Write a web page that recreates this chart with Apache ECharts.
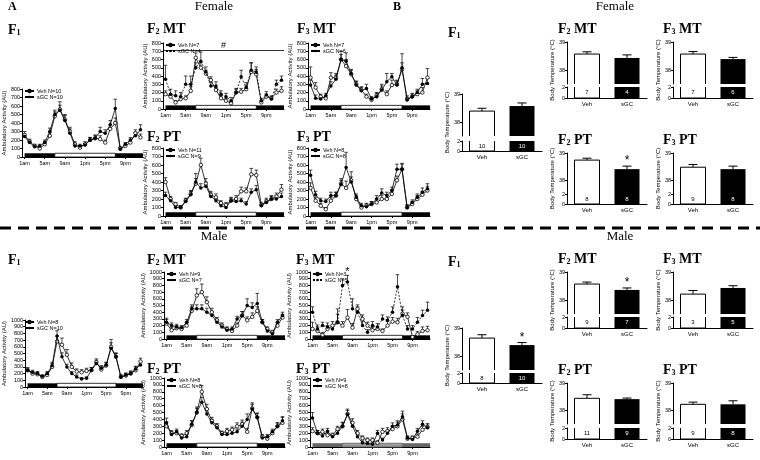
<!DOCTYPE html>
<html><head><meta charset="utf-8">
<script src="https://cdn.jsdelivr.net/npm/echarts@6/dist/echarts.min.js"></script>
<style>html,body{margin:0;padding:0;background:#fff}#c{width:760px;height:460px}</style>
</head><body><div id="c"></div>
<script>
// ---------- shared axes ----------
const hours = [1,2,3,4,5,6,7,8,9,10,11,12,13,14,15,16,17,18,19,20,21,22,23,24];
const xTickHours = [1,5,9,13,17,21];
const xTickLabels = ['1am','5am','9am','1pm','5pm','9pm'];
const lightsOn = 7, lightsOff = 19;

// ---------- Female ambulatory activity (mean, SEM) ----------
const fF1_veh      = [260,180,130,100,150,250,480,560,440,300,150,110,150,200,220,210,170,330,400,100,130,170,280,230];
const fF1_vehErr   = [40,30,20,20,30,40,50,90,60,50,30,20,30,30,40,40,30,50,60,20,20,30,40,40];
const fF1_sgc      = [240,170,120,130,170,300,500,550,430,280,130,130,140,200,220,300,280,380,570,90,150,200,250,320];
const fF1_sgcErr   = [30,20,20,20,30,40,50,60,60,50,30,20,20,30,30,50,40,50,110,20,20,30,40,60];
const fF2MT_veh    = [180,150,80,120,130,220,620,500,430,350,230,130,100,70,200,210,240,450,420,80,150,130,200,220];
const fF2MT_vehErr = [40,30,20,30,30,50,60,60,40,40,30,30,30,20,40,40,40,110,60,20,30,30,40,50];
const fF2MT_sgc    = [360,180,160,150,300,300,500,580,450,280,280,180,150,100,200,390,260,470,450,100,170,120,300,350];
const fF2MT_sgcErr = [170,60,60,50,100,100,60,110,60,40,50,40,40,40,50,80,60,90,60,30,40,30,50,50];
const fF3MT_veh    = [380,260,150,130,380,380,600,520,420,300,230,150,110,160,240,180,290,300,480,120,150,180,200,380];
const fF3MT_vehErr = [130,60,30,30,60,50,100,80,50,40,40,30,30,40,60,40,60,50,190,40,40,40,60,110];
const fF3MT_sgc    = [290,130,120,160,280,360,600,580,430,290,220,250,120,150,230,330,390,290,500,110,150,200,300,310];
const fF3MT_sgcErr = [60,40,30,30,50,50,60,100,50,40,40,50,30,40,50,100,40,50,60,30,30,40,70,60];
const fF2PT_veh    = [400,200,140,100,180,260,380,600,380,250,220,150,130,180,200,290,290,490,480,130,170,200,230,310];
const fF2PT_vehErr = [50,30,20,20,30,40,60,80,60,40,40,30,30,40,40,50,40,70,60,30,40,40,40,60];
const fF2PT_sgc    = [240,180,100,100,170,250,400,330,350,230,180,120,100,180,170,180,140,280,310,120,160,200,200,230];
const fF2PT_sgcErr = [40,30,20,20,30,40,100,50,50,40,30,20,20,30,30,30,30,40,50,20,30,30,40,40];
const fF3PT_veh    = [330,180,120,80,180,240,380,330,420,200,100,120,140,160,200,200,260,420,550,100,140,200,250,300];
const fF3PT_vehErr = [60,40,30,20,40,40,60,80,100,40,30,30,30,40,40,40,50,50,60,30,30,40,40,50];
const fF3PT_sgc    = [480,250,180,170,240,240,370,570,400,220,120,110,140,200,270,240,300,550,550,100,160,220,280,320];
const fF3PT_sgcErr = [60,40,30,30,40,40,50,180,60,40,30,30,30,40,50,40,40,60,70,30,30,40,50,60];

// ---------- Male ambulatory activity (mean, SEM) ----------
const mF1_veh      = [250,200,190,150,180,300,680,630,480,300,230,220,240,250,370,260,320,600,450,150,170,200,250,380];
const mF1_vehErr   = [40,30,30,20,30,50,80,100,80,60,40,40,40,40,50,40,40,110,60,30,30,40,50,50];
const mF1_sgc      = [250,220,200,160,200,320,760,450,300,200,150,120,130,250,350,280,330,580,450,150,180,200,270,330];
const mF1_sgcErr   = [30,30,30,20,30,50,80,60,40,30,30,20,20,40,50,40,40,80,50,30,30,30,40,50];
const mF1_arrowHours = [9, 10];
const mF2MT_veh    = [230,130,160,150,200,420,650,700,550,400,280,200,150,120,200,350,280,330,420,250,150,100,200,320];
const mF2MT_vehErr = [60,40,40,30,40,60,100,120,80,60,40,40,30,30,40,60,50,60,60,40,30,30,40,50];
const mF2MT_sgc    = [250,200,180,170,250,450,450,450,400,350,250,180,130,150,300,350,500,470,530,250,120,80,250,350];
const mF2MT_sgcErr = [60,40,40,30,40,60,60,60,60,50,40,30,30,30,40,60,100,70,150,40,30,20,40,50];
const mF3MT_veh    = [150,120,60,150,200,250,200,320,170,450,300,200,130,150,120,200,260,250,380,330,30,70,120,130];
const mF3MT_vehErr = [100,60,40,50,60,200,60,120,60,60,60,50,40,40,30,60,60,60,100,60,20,40,60,60];
const mF3MT_sgc    = [400,150,200,180,150,250,800,850,450,400,200,100,200,180,300,280,400,780,350,150,150,250,350,430];
const mF3MT_sgcErr = [80,60,50,60,60,120,100,100,150,80,60,40,60,50,60,50,80,180,80,50,50,70,80,120];
const mF3MT_starHours = [8];
const mF2PT_veh    = [300,200,200,160,200,320,500,800,550,380,300,200,230,250,300,330,220,560,430,150,120,200,300,350];
const mF2PT_vehErr = [60,40,40,30,40,60,80,90,70,50,40,30,40,40,50,60,50,80,60,30,30,40,50,80];
const mF2PT_sgc    = [350,180,220,130,150,330,500,650,480,350,280,180,180,200,220,300,400,550,430,130,150,220,300,380];
const mF2PT_sgcErr = [70,40,40,30,30,50,60,70,60,50,40,30,30,40,40,60,80,70,60,30,30,40,50,60];
const mF3PT_veh    = [230,200,220,170,170,260,300,480,350,200,130,100,100,60,220,230,260,300,400,120,130,150,250,290];
const mF3PT_vehErr = [50,40,40,30,30,40,60,70,60,40,30,30,30,30,50,50,50,60,80,30,30,40,50,50];
const mF3PT_sgc    = [420,200,160,230,150,200,300,470,300,150,60,50,40,200,100,200,300,320,440,130,110,230,330,280];
const mF3PT_sgcErr = [80,40,30,40,30,40,50,60,50,40,30,30,30,40,30,40,50,60,80,30,30,40,50,40];

// ---------- Body temperature (°C) ----------
const barCats = ['Veh','sGC'];
const fF1_temp   = [38.39, 38.57], fF1_err   = [0.10, 0.11], fF1_n   = [10, 10], fF1_star   = [0, 0];
const fF2MT_temp = [38.57, 38.43], fF2MT_err = [0.08, 0.11], fF2MT_n = [7, 4],   fF2MT_star = [0, 0];
const fF3MT_temp = [38.57, 38.39], fF3MT_err = [0.09, 0.06], fF3MT_n = [7, 6],   fF3MT_star = [0, 0];
const fF2PT_temp = [38.74, 38.41], fF2PT_err = [0.07, 0.11], fF2PT_n = [8, 8],   fF2PT_star = [0, 1];
const fF3PT_temp = [38.48, 38.41], fF3PT_err = [0.10, 0.11], fF3PT_n = [9, 8],   fF3PT_star = [0, 0];
const mF1_temp   = [38.64, 38.39], mF1_err   = [0.12, 0.09], mF1_n   = [8, 10],  mF1_star   = [0, 1];
const mF2MT_temp = [38.57, 38.36], mF2MT_err = [0.07, 0.07], mF2MT_n = [9, 7],   mF2MT_star = [0, 1];
const mF3MT_temp = [38.21, 38.43], mF3MT_err = [0.13, 0.08], mF3MT_n = [3, 5],   mF3MT_star = [0, 0];
const mF2PT_temp = [38.44, 38.41], mF2PT_err = [0.13, 0.04], mF2PT_n = [11, 9],  mF2PT_star = [0, 0];
const mF3PT_temp = [38.22, 38.22], mF3PT_err = [0.08, 0.13], mF3PT_n = [9, 8],   mF3PT_star = [0, 0];

// ---------- build ----------
const SERIF = '"Liberation Serif","DejaVu Serif",serif';
const SANS = '"Liberation Sans",Arial,sans-serif';
const BARW = 25;
const grids = [], xAxes = [], yAxes = [], series = [], titles = [], legends = [], graphics = [];

function addTitle(main, sub, rest, x, yc) {
  titles.push({
    text: '{a|' + main + '}{s|' + sub + '}' + (rest ? '{a| ' + rest + '}' : ''),
    left: x, top: yc - 10, padding: 0, itemGap: 0,
    textStyle: { rich: {
      a: { fontFamily: SERIF, fontSize: 14, color: '#000', lineHeight: 18, verticalAlign: 'bottom' },
      s: { fontFamily: SERIF, fontSize: 8, color: '#000', lineHeight: 11, verticalAlign: 'bottom' }
    } }
  });
}

function errSeries(gi, vals, errs, stars, z) {
  return {
    type: 'custom', xAxisIndex: gi, yAxisIndex: gi, silent: true, z: z,
    data: hours.map((h, i) => [h, vals[i], errs[i], stars && stars.indexOf(h) >= 0 ? 1 : 0]),
    renderItem: (params, api) => {
      const a = api.coord([api.value(0), api.value(1)]);
      const b = api.coord([api.value(0), api.value(1) + api.value(2)]);
      const ch = [
        { type: 'line', shape: { x1: a[0], y1: a[1], x2: b[0], y2: b[1] }, style: { stroke: '#000', lineWidth: 0.7 } },
        { type: 'line', shape: { x1: b[0] - 1.8, y1: b[1], x2: b[0] + 1.8, y2: b[1] }, style: { stroke: '#000', lineWidth: 0.7 } }
      ];
      if (api.value(3)) ch.push({ type: 'text', style: { text: '*', x: b[0], y: b[1] + 2, textAlign: 'center', textVerticalAlign: 'bottom', font: '11px ' + SANS, fill: '#000' } });
      return { type: 'group', children: ch };
    }
  };
}

function linePanel(p) {
  const gi = grids.length;
  grids.push({ left: p.left, top: p.top, width: p.width, height: p.height });
  xAxes.push({
    type: 'value', gridIndex: gi, min: 0.5, max: 24.5,
    axisLine: { lineStyle: { color: '#000', width: 1 } },
    axisTick: { customValues: xTickHours, length: 2, lineStyle: { color: '#000' } },
    axisLabel: { customValues: xTickHours, fontSize: 5.5, margin: 3, color: '#000', fontFamily: SANS,
      formatter: v => xTickLabels[xTickHours.indexOf(v)] || '' },
    splitLine: { show: false }
  });
  yAxes.push({
    type: 'value', gridIndex: gi, min: 0, max: p.ymax, interval: 100,
    axisLine: { show: true, lineStyle: { color: '#000', width: 1 } },
    axisTick: { show: true, length: 2, lineStyle: { color: '#000' } },
    axisLabel: { fontSize: 5.5, margin: 2, color: '#000', fontFamily: SANS, formatter: v => String(v) },
    splitLine: { show: false },
    name: 'Ambulatory Activity (AU)', nameLocation: 'middle', nameGap: p.ymax > 800 ? 15 : 13,
    nameTextStyle: { fontSize: 6, fontFamily: SANS, color: '#000' }
  });
  const barTop = p.ymax * 0.055;
  const dark = p.barColor || '#000';
  const vehName = 'Veh N=' + p.nVeh, sgcName = 'sGC N=' + p.nSgc;
  series.push(errSeries(gi, p.veh, p.vehErr, null, 2));
  series.push(errSeries(gi, p.sgc, p.sgcErr, p.stars, 2));
  series.push({
    type: 'line', name: vehName, xAxisIndex: gi, yAxisIndex: gi, z: 3,
    data: hours.map((h, i) => [h, p.veh[i]]),
    symbol: 'circle', symbolSize: 3.5,
    itemStyle: { color: '#fff', borderColor: '#000', borderWidth: 0.8 },
    lineStyle: { color: '#000', width: 0.8 },
    emphasis: { disabled: true },
    markArea: { silent: true, data: [
      [{ xAxis: 1, yAxis: 0, itemStyle: { color: dark } }, { xAxis: lightsOn, yAxis: barTop }],
      [{ xAxis: lightsOn, yAxis: 0, itemStyle: { color: p.lightColor || '#fff', borderColor: dark, borderWidth: 0.8 } }, { xAxis: lightsOff, yAxis: barTop }],
      [{ xAxis: lightsOff, yAxis: 0, itemStyle: { color: dark } }, { xAxis: 24.5, yAxis: barTop }]
    ] },
    markPoint: p.arrows ? { silent: true, symbol: 'none',
      label: { show: true, formatter: '\u2190', fontSize: 8, color: '#000', offset: [6, 0] },
      data: p.arrows.map(h => ({ coord: [h, p.veh[h - 1]] })) } : undefined
  });
  series.push({
    type: 'line', name: sgcName, xAxisIndex: gi, yAxisIndex: gi, z: 4,
    data: hours.map((h, i) => [h, p.sgc[i]]),
    symbol: 'circle', symbolSize: 3.5,
    itemStyle: { color: '#000' },
    lineStyle: { color: '#000', width: 0.8, type: p.sgcDash ? [2, 1.5] : 'solid' },
    emphasis: { disabled: true },
    markLine: p.hashLine ? { silent: true, symbol: 'none',
      lineStyle: { color: '#000', width: 0.8, type: 'solid' },
      label: { show: true, position: 'middle', formatter: '#', fontSize: 9, color: '#000', distance: 0 },
      data: [{ yAxis: p.hashLine }] } : undefined
  });
  legends.push({
    data: [vehName, sgcName], left: p.left + 2, top: p.top - 1, orient: 'vertical',
    itemGap: 0, itemWidth: 9, itemHeight: 3, padding: 0, selectedMode: false,
    textStyle: { fontSize: 5.5, fontFamily: SANS, color: '#000', padding: [0, 0, 0, -2] }
  });
  addTitle('F', p.gen, p.tag, p.tx, p.ty);
}

// open outline for the white Veh bar (no edge at the axis break)
function vehOutline(gi, value, base, openTop) {
  return {
    type: 'custom', xAxisIndex: gi, yAxisIndex: gi, silent: true, z: 4,
    data: [[0, value]],
    renderItem: (params, api) => {
      const t = api.coord([0, api.value(1)]);
      const b = api.coord([0, base]);
      const hw = BARW / 2;
      const pts = openTop
        ? [[t[0] - hw, t[1]], [t[0] - hw, b[1]], [t[0] + hw, b[1]], [t[0] + hw, t[1]]]
        : [[t[0] - hw, b[1]], [t[0] - hw, t[1]], [t[0] + hw, t[1]], [t[0] + hw, b[1]]];
      return { type: 'polyline', shape: { points: pts }, style: { stroke: '#000', lineWidth: 1, fill: null } };
    }
  };
}

function barPanel(p) {
  const gu = grids.length;
  grids.push({ left: p.left, top: p.top, width: p.width, height: p.upperH });
  xAxes.push({ type: 'category', gridIndex: gu, data: barCats, show: false });
  yAxes.push({
    type: 'value', gridIndex: gu, min: 37.5, max: 39,
    axisLine: { show: true, lineStyle: { color: '#000', width: 1 } },
    axisTick: { show: true, customValues: [38, 39], length: 2, lineStyle: { color: '#000' } },
    axisLabel: { customValues: [38, 39], fontSize: 5.5, margin: 2, color: '#000', fontFamily: SANS },
    splitLine: { show: false }
  });
  series.push({
    type: 'bar', xAxisIndex: gu, yAxisIndex: gu, barWidth: BARW, silent: true,
    data: p.temp.map((v, i) => ({ value: v, itemStyle: { color: i === 0 ? '#fff' : '#000' } }))
  });
  series.push(vehOutline(gu, p.temp[0], 37.5, false));
  series.push({
    type: 'custom', xAxisIndex: gu, yAxisIndex: gu, silent: true, z: 5,
    data: p.temp.map((v, i) => [i, v, p.err[i], p.star[i]]),
    renderItem: (params, api) => {
      const a = api.coord([api.value(0), api.value(1)]);
      const b = api.coord([api.value(0), api.value(1) + api.value(2)]);
      const children = [
        { type: 'line', shape: { x1: a[0], y1: a[1], x2: b[0], y2: b[1] }, style: { stroke: '#000', lineWidth: 1 } },
        { type: 'line', shape: { x1: b[0] - 4.5, y1: b[1], x2: b[0] + 4.5, y2: b[1] }, style: { stroke: '#000', lineWidth: 1 } }
      ];
      if (api.value(3)) children.push({ type: 'text', style: { text: '*', x: b[0], y: b[1] + 1, textAlign: 'center', textVerticalAlign: 'bottom', font: '12px ' + SANS, fill: '#000' } });
      return { type: 'group', children };
    }
  });
  const gl = grids.length;
  grids.push({ left: p.left, top: p.lowerTop, width: p.width, height: p.lowerH });
  xAxes.push({
    type: 'category', gridIndex: gl, data: barCats,
    axisLine: { lineStyle: { color: '#000', width: 1 } },
    axisTick: { alignWithLabel: true, length: 2, lineStyle: { color: '#000' } },
    axisLabel: { fontSize: 6, margin: 3, color: '#000', fontFamily: SANS }
  });
  yAxes.push({
    type: 'value', gridIndex: gl, min: 0, max: 2,
    axisLine: { show: true, lineStyle: { color: '#000', width: 1 } },
    axisTick: { show: true, customValues: [0, 2], length: 2, lineStyle: { color: '#000' } },
    axisLabel: { customValues: [0, 2], fontSize: 5.5, margin: 2, color: '#000', fontFamily: SANS },
    splitLine: { show: false }
  });
  series.push({
    type: 'bar', xAxisIndex: gl, yAxisIndex: gl, barWidth: BARW, silent: true,
    data: p.n.map((n, i) => ({ value: 2, itemStyle: { color: i === 0 ? '#fff' : '#000' },
      label: { show: true, position: 'inside', formatter: String(n), fontSize: 6, fontFamily: SANS, color: i === 0 ? '#000' : '#fff' } }))
  });
  series.push(vehOutline(gl, 2, 0, true));
  graphics.push({ type: 'text', x: p.left - 15, y: (p.top + p.lowerTop + p.lowerH) / 2, rotation: Math.PI / 2,
    style: { text: 'Body Temperature (°C)', font: '6px ' + SANS, fill: '#000', textAlign: 'center', textVerticalAlign: 'middle' } });
  addTitle('F', p.gen, p.tag, p.tx, p.ty);
}

// Female lines
linePanel({ left: 22, top: 89, width: 121, height: 68, ymax: 800, veh: fF1_veh, vehErr: fF1_vehErr, sgc: fF1_sgc, sgcErr: fF1_sgcErr, nVeh: 10, nSgc: 10, gen: '1', tag: '', tx: 8, ty: 29 });
linePanel({ left: 163, top: 43, width: 121, height: 66, ymax: 800, veh: fF2MT_veh, vehErr: fF2MT_vehErr, sgc: fF2MT_sgc, sgcErr: fF2MT_sgcErr, nVeh: 7, nSgc: 4, gen: '2', tag: 'MT', tx: 147, ty: 28, hashLine: 715, sgcDash: true });
linePanel({ left: 308, top: 43, width: 122, height: 66, ymax: 800, veh: fF3MT_veh, vehErr: fF3MT_vehErr, sgc: fF3MT_sgc, sgcErr: fF3MT_sgcErr, nVeh: 7, nSgc: 6, gen: '3', tag: 'MT', tx: 297, ty: 28 });
linePanel({ left: 163, top: 148, width: 121, height: 68, ymax: 800, veh: fF2PT_veh, vehErr: fF2PT_vehErr, sgc: fF2PT_sgc, sgcErr: fF2PT_sgcErr, nVeh: 11, nSgc: 9, gen: '2', tag: 'PT', tx: 147, ty: 136 });
linePanel({ left: 308, top: 148, width: 122, height: 68, ymax: 800, veh: fF3PT_veh, vehErr: fF3PT_vehErr, sgc: fF3PT_sgc, sgcErr: fF3PT_sgcErr, nVeh: 8, nSgc: 8, gen: '3', tag: 'PT', tx: 297, ty: 136 });
// Male lines
linePanel({ left: 22, top: 320, width: 121, height: 67, ymax: 1000, veh: mF1_veh, vehErr: mF1_vehErr, sgc: mF1_sgc, sgcErr: mF1_sgcErr, nVeh: 8, nSgc: 10, gen: '1', tag: '', tx: 8, ty: 259, arrows: mF1_arrowHours });
linePanel({ left: 164, top: 272, width: 121, height: 67, ymax: 1000, veh: mF2MT_veh, vehErr: mF2MT_vehErr, sgc: mF2MT_sgc, sgcErr: mF2MT_sgcErr, nVeh: 9, nSgc: 7, gen: '2', tag: 'MT', tx: 147, ty: 259 });
linePanel({ left: 310, top: 272, width: 120, height: 67, ymax: 1000, veh: mF3MT_veh, vehErr: mF3MT_vehErr, sgc: mF3MT_sgc, sgcErr: mF3MT_sgcErr, nVeh: 3, nSgc: 5, gen: '3', tag: 'MT', tx: 296, ty: 259, sgcDash: true, stars: mF3MT_starHours });
linePanel({ left: 164, top: 378, width: 121, height: 69, ymax: 1000, veh: mF2PT_veh, vehErr: mF2PT_vehErr, sgc: mF2PT_sgc, sgcErr: mF2PT_sgcErr, nVeh: 8, nSgc: 8, gen: '2', tag: 'PT', tx: 147, ty: 368 });
linePanel({ left: 310, top: 378, width: 120, height: 69, ymax: 1000, veh: mF3PT_veh, vehErr: mF3PT_vehErr, sgc: mF3PT_sgc, sgcErr: mF3PT_sgcErr, nVeh: 9, nSgc: 8, gen: '3', tag: 'PT', tx: 296, ty: 368, barColor: '#666', lightColor: '#999' });

// Female bars
barPanel({ left: 462, width: 80, top: 94, upperH: 42, lowerTop: 141, lowerH: 10, temp: fF1_temp, err: fF1_err, n: fF1_n, star: fF1_star, gen: '1', tag: '', tx: 448, ty: 32 });
barPanel({ left: 567, width: 80, top: 42, upperH: 42, lowerTop: 87, lowerH: 11, temp: fF2MT_temp, err: fF2MT_err, n: fF2MT_n, star: fF2MT_star, gen: '2', tag: 'MT', tx: 558, ty: 28 });
barPanel({ left: 673, width: 80, top: 42, upperH: 42, lowerTop: 87, lowerH: 11, temp: fF3MT_temp, err: fF3MT_err, n: fF3MT_n, star: fF3MT_star, gen: '3', tag: 'MT', tx: 663, ty: 28 });
barPanel({ left: 567, width: 80, top: 153, upperH: 41, lowerTop: 194, lowerH: 10, temp: fF2PT_temp, err: fF2PT_err, n: fF2PT_n, star: fF2PT_star, gen: '2', tag: 'PT', tx: 558, ty: 139 });
barPanel({ left: 673, width: 80, top: 153, upperH: 41, lowerTop: 194, lowerH: 10, temp: fF3PT_temp, err: fF3PT_err, n: fF3PT_n, star: fF3PT_star, gen: '3', tag: 'PT', tx: 663, ty: 139 });
// Male bars
barPanel({ left: 462, width: 80, top: 328, upperH: 42, lowerTop: 373, lowerH: 10, temp: mF1_temp, err: mF1_err, n: mF1_n, star: mF1_star, gen: '1', tag: '', tx: 448, ty: 261 });
barPanel({ left: 567, width: 80, top: 272, upperH: 42, lowerTop: 317, lowerH: 11, temp: mF2MT_temp, err: mF2MT_err, n: mF2MT_n, star: mF2MT_star, gen: '2', tag: 'MT', tx: 558, ty: 258 });
barPanel({ left: 673, width: 80, top: 272, upperH: 42, lowerTop: 317, lowerH: 11, temp: mF3MT_temp, err: mF3MT_err, n: mF3MT_n, star: mF3MT_star, gen: '3', tag: 'MT', tx: 663, ty: 258 });
barPanel({ left: 567, width: 80, top: 383, upperH: 41, lowerTop: 428, lowerH: 11, temp: mF2PT_temp, err: mF2PT_err, n: mF2PT_n, star: mF2PT_star, gen: '2', tag: 'PT', tx: 558, ty: 369 });
barPanel({ left: 673, width: 80, top: 383, upperH: 41, lowerTop: 428, lowerH: 11, temp: mF3PT_temp, err: mF3PT_err, n: mF3PT_n, star: mF3PT_star, gen: '3', tag: 'PT', tx: 663, ty: 369 });

// Section labels and separator
graphics.push(
  { type: 'text', x: 8, y: 7, style: { text: 'A', font: 'bold 12px ' + SERIF, fill: '#000', textVerticalAlign: 'middle' } },
  { type: 'text', x: 393, y: 7, style: { text: 'B', font: 'bold 12px ' + SERIF, fill: '#000', textVerticalAlign: 'middle' } },
  { type: 'text', x: 214, y: 7, style: { text: 'Female', font: '13px ' + SERIF, fill: '#000', textAlign: 'center', textVerticalAlign: 'middle' } },
  { type: 'text', x: 615, y: 7, style: { text: 'Female', font: '13px ' + SERIF, fill: '#000', textAlign: 'center', textVerticalAlign: 'middle' } },
  { type: 'text', x: 214, y: 237, style: { text: 'Male', font: '13px ' + SERIF, fill: '#000', textAlign: 'center', textVerticalAlign: 'middle' } },
  { type: 'text', x: 620, y: 237, style: { text: 'Male', font: '13px ' + SERIF, fill: '#000', textAlign: 'center', textVerticalAlign: 'middle' } },
  { type: 'line', shape: { x1: 0, y1: 228, x2: 760, y2: 228 }, style: { stroke: '#000', lineWidth: 3, lineDash: [11, 7] } }
);

const chart = echarts.init(document.getElementById('c'), null, { renderer: 'canvas' });
chart.setOption({
  animation: false, backgroundColor: '#fff',
  title: titles, legend: legends, grid: grids, xAxis: xAxes, yAxis: yAxes, series: series,
  graphic: graphics
});
</script></body></html>
